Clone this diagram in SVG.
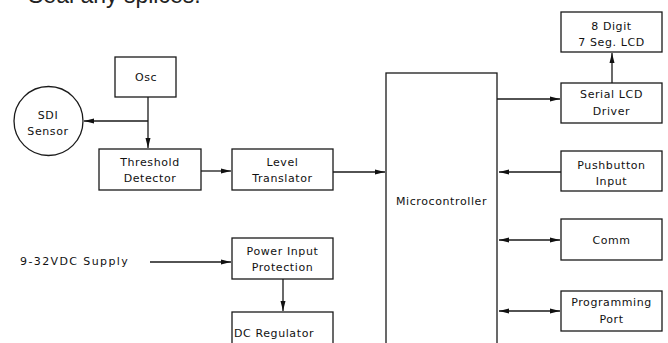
<svg xmlns="http://www.w3.org/2000/svg" width="668" height="343" viewBox="0 0 668 343">
<defs>
<style>
.box{fill:#fff;stroke:#1a1a1a;stroke-width:1.3}
.ln{fill:none;stroke:#1a1a1a;stroke-width:1.3}
.t{font-family:"DejaVu Sans",sans-serif;font-size:11px;fill:#111;text-anchor:middle;letter-spacing:0.6px}
</style>
<marker id="ah" viewBox="0 0 10 6" refX="10" refY="3" markerWidth="10" markerHeight="6" markerUnits="userSpaceOnUse" orient="auto-start-reverse">
<path d="M0,0.5 L10,3 L0,5.5 z" fill="#111"/>
</marker>
</defs>
<rect width="668" height="343" fill="#fff"/>
<text x="28" y="3" style="font-family:'Liberation Sans',Arial,sans-serif;font-size:23px;fill:#222">Seal any splices.</text>

<g id="connectors">
<line class="ln" x1="148" y1="97" x2="148" y2="148" marker-end="url(#ah)"/>
<line class="ln" x1="148" y1="121" x2="84" y2="121" marker-end="url(#ah)"/>
<line class="ln" x1="201" y1="171" x2="231" y2="171" marker-end="url(#ah)"/>
<line class="ln" x1="333" y1="172" x2="385" y2="172" marker-end="url(#ah)"/>
<line class="ln" x1="497" y1="99" x2="560" y2="99" marker-end="url(#ah)"/>
<line class="ln" x1="612" y1="83" x2="612" y2="53" marker-end="url(#ah)"/>
<line class="ln" x1="561" y1="172" x2="499" y2="172" marker-end="url(#ah)"/>
<line class="ln" x1="499" y1="240" x2="560" y2="240" marker-start="url(#ah)" marker-end="url(#ah)"/>
<line class="ln" x1="499" y1="311" x2="560" y2="311" marker-start="url(#ah)" marker-end="url(#ah)"/>
<line class="ln" x1="150" y1="262" x2="231" y2="262" marker-end="url(#ah)"/>
<line class="ln" x1="283" y1="279" x2="283" y2="311" marker-end="url(#ah)"/>
</g>

<g id="osc"><rect class="box" x="115" y="57" width="61" height="40"/><text class="t" x="146" y="81">Osc</text></g>
<g id="sdi"><circle class="box" cx="48.5" cy="121" r="34.5"/><text class="t" x="48" y="119">SDI</text><text class="t" x="48" y="135">Sensor</text></g>
<g id="threshold"><rect class="box" x="99" y="149" width="102" height="41"/><text class="t" x="150" y="166">Threshold</text><text class="t" x="150" y="182">Detector</text></g>
<g id="level"><rect class="box" x="232" y="149" width="101" height="41"/><text class="t" x="282.5" y="166">Level</text><text class="t" x="282.5" y="182">Translator</text></g>
<g id="micro"><rect class="box" x="386" y="73" width="111" height="300"/><text class="t" x="441.5" y="205">Microcontroller</text></g>
<g id="lcd"><rect class="box" x="561" y="12" width="101" height="40"/><text class="t" x="611.5" y="30">8 Digit</text><text class="t" x="611.5" y="46">7 Seg. LCD</text></g>
<g id="serial"><rect class="box" x="561" y="83" width="101" height="40"/><text class="t" x="611.5" y="98">Serial LCD</text><text class="t" x="611.5" y="115">Driver</text></g>
<g id="pushbutton"><rect class="box" x="561" y="151" width="101" height="40"/><text class="t" x="611.5" y="169">Pushbutton</text><text class="t" x="611.5" y="185">Input</text></g>
<g id="comm"><rect class="box" x="561" y="219" width="101" height="41"/><text class="t" x="611.5" y="244">Comm</text></g>
<g id="prog"><rect class="box" x="561" y="291" width="101" height="40"/><text class="t" x="611.5" y="306">Programming</text><text class="t" x="611.5" y="323">Port</text></g>
<g id="supply"><text class="t" x="20" y="265" style="text-anchor:start;letter-spacing:1.4px">9-32VDC Supply</text></g>
<g id="power"><rect class="box" x="232" y="238" width="101" height="41"/><text class="t" x="282.5" y="255">Power Input</text><text class="t" x="282.5" y="271">Protection</text></g>
<g id="dcreg"><rect class="box" x="232" y="312" width="101" height="50"/><text class="t" x="234" y="337" style="text-anchor:start">DC Regulator</text></g>
</svg>
